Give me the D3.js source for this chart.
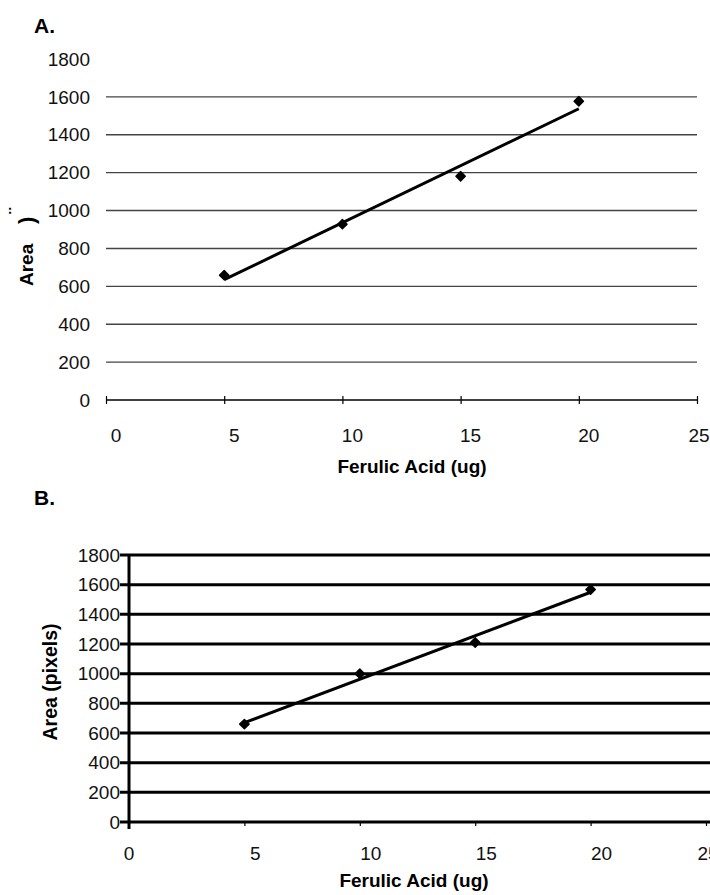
<!DOCTYPE html>
<html>
<head>
<meta charset="utf-8">
<script src="https://cdn.jsdelivr.net/npm/d3@7"></script>
<style>
  body { margin: 0; background: #fff; }
  svg { display: block; font-family: "Liberation Sans", Arial, sans-serif; }
</style>
</head>
<body>
<svg id="chart" width="710" height="895"></svg>
<script>
// ferulic acid amount (ug) vs measured area
let xTicks = [0, 5, 10, 15, 20, 25];
let yTicks = [0, 200, 400, 600, 800, 1000, 1200, 1400, 1600, 1800];
let amountA = [5, 10, 15, 20];
let areaA = [659, 928, 1181, 1577];
let amountB = [5, 10, 15, 20];
let areaB = [660, 1000, 1210, 1567];

let svg = d3.select("#chart");

// least squares fit for the trend line
function fit(xs, ys) {
  let mx = d3.mean(xs), my = d3.mean(ys);
  let num = d3.sum(xs, (x, i) => (x - mx) * (ys[i] - my));
  let den = d3.sum(xs, x => (x - mx) * (x - mx));
  let slope = num / den;
  return { slope: slope, icpt: my - slope * mx };
}

function trend(g, xScale, yScale, xs, ys) {
  let f = fit(xs, ys);
  let ends = [d3.min(xs), d3.max(xs)];
  g.append("path")
    .attr("d", d3.line()
      .x(d => xScale(d))
      .y(d => yScale(f.icpt + f.slope * d))(ends))
    .style("fill", "none")
    .style("stroke", "#000")
    .style("stroke-width", 3);
}

function markers(g, xScale, yScale, xs, ys) {
  g.selectAll(".pt")
    .data(xs)
    .enter()
    .append("path")
    .attr("class", "pt")
    .attr("transform", (d, i) => "translate(" + xScale(d) + "," + yScale(ys[i]) + ")")
    .attr("d", d3.symbol().type(d3.symbolDiamond2).size(55))
    .style("fill", "#000")
    .style("stroke", "#000")
    .style("stroke-width", 1.5)
    .style("stroke-linejoin", "round");
}

// ---------- chart A ----------
let xA = d3.scaleLinear().domain([0, 25]).range([106, 697]);
let yA = d3.scaleLinear().domain([0, 1800]).range([400, 59]);
let gA = svg.append("g");

gA.append("text")
  .attr("x", 34).attr("y", 33)
  .style("font-size", "21px").style("font-weight", "bold")
  .text("A.");

// horizontal grid
gA.append("g")
  .selectAll("line")
  .data(yTicks.filter(d => d > 0 && d < 1800))
  .enter()
  .append("line")
  .attr("x1", xA(0)).attr("x2", xA(25))
  .attr("y1", d => yA(d)).attr("y2", d => yA(d))
  .style("stroke", "#444")
  .style("stroke-width", 1.4);

// y tick labels
gA.append("g")
  .selectAll("text")
  .data(yTicks)
  .enter()
  .append("text")
  .attr("x", 90)
  .attr("y", d => yA(d))
  .attr("dy", "0.35em")
  .attr("text-anchor", "end")
  .style("font-size", "19px")
  .style("fill", "#111")
  .text(d => d);

// x axis
let axA = gA.append("g")
  .attr("transform", "translate(0," + yA(0) + ")")
  .call(d3.axisBottom(xA).tickValues(xTicks).tickSize(4).tickFormat(""));
axA.select(".domain").attr("d", "M" + xA(0) + ",0H" + xA(25)).style("stroke-width", 1.6);
axA.selectAll(".tick line").attr("y1", -4).style("stroke-width", 1.2);

gA.append("g")
  .selectAll("text")
  .data(xTicks)
  .enter()
  .append("text")
  .attr("x", d => Math.min(xA(d) + 10, 699))
  .attr("y", 435)
  .attr("dy", "0.35em")
  .attr("text-anchor", "middle")
  .style("font-size", "19px")
  .style("fill", "#111")
  .text(d => d);

gA.append("text")
  .attr("x", 412).attr("y", 473)
  .attr("text-anchor", "middle")
  .style("font-size", "19px").style("font-weight", "bold")
  .text("Ferulic Acid (ug)");

// broken y title of chart A
let yTitleA = gA.append("g").style("font-size", "19px").style("font-weight", "bold");
yTitleA.append("text")
  .attr("transform", "translate(33,286) rotate(-90)")
  .text("Area");
yTitleA.append("text")
  .attr("transform", "translate(34,224) rotate(-90)")
  .style("font-size", "22px")
  .text(")");
yTitleA.append("text")
  .attr("transform", "translate(22,214) rotate(-90)")
  .text("\u00a8");

trend(gA, xA, yA, amountA, areaA);
markers(gA, xA, yA, amountA, areaA);

// ---------- chart B ----------
let xB = d3.scaleLinear().domain([0, 25]).range([129, 706]);
let yB = d3.scaleLinear().domain([0, 1800]).range([822, 555]);
let gB = svg.append("g");

gB.append("text")
  .attr("x", 34).attr("y", 505)
  .style("font-size", "21px").style("font-weight", "bold")
  .text("B.");

gB.append("g")
  .selectAll("line")
  .data(yTicks.filter(d => d > 0))
  .enter()
  .append("line")
  .attr("x1", 120).attr("x2", 710)
  .attr("y1", d => yB(d)).attr("y2", d => yB(d))
  .style("stroke", "#000")
  .style("stroke-width", 3);

gB.append("g")
  .selectAll("text")
  .data(yTicks)
  .enter()
  .append("text")
  .attr("x", 120)
  .attr("y", d => yB(d))
  .attr("dy", "0.35em")
  .attr("text-anchor", "end")
  .style("font-size", "19px")
  .style("fill", "#111")
  .text(d => d);

// x axis
let axB = gB.append("g")
  .attr("transform", "translate(0," + yB(0) + ")")
  .call(d3.axisBottom(xB).tickValues(xTicks.filter(d => d > 0)).tickSize(4).tickFormat(""));
axB.select(".domain").attr("d", "M120,0H710").style("stroke-width", 3);
axB.selectAll(".tick line").style("stroke-width", 1.2);

// y axis
gB.append("line")
  .attr("x1", xB(0)).attr("x2", xB(0))
  .attr("y1", yB(1800) - 1).attr("y2", yB(0) + 7)
  .style("stroke", "#000")
  .style("stroke-width", 3);

gB.append("g")
  .selectAll("text")
  .data(xTicks)
  .enter()
  .append("text")
  .attr("x", d => d > 0 ? Math.min(xB(d) + 11, 708) : xB(d))
  .attr("y", 853)
  .attr("dy", "0.35em")
  .attr("text-anchor", "middle")
  .style("font-size", "19px")
  .style("fill", "#111")
  .text(d => d);

gB.append("text")
  .attr("x", 414).attr("y", 887)
  .attr("text-anchor", "middle")
  .style("font-size", "19px").style("font-weight", "bold")
  .text("Ferulic Acid (ug)");

gB.append("text")
  .attr("transform", "translate(57,682) rotate(-90)")
  .attr("text-anchor", "middle")
  .style("font-size", "19.5px").style("font-weight", "bold")
  .text("Area (pixels)");

trend(gB, xB, yB, amountB, areaB);
markers(gB, xB, yB, amountB, areaB);
</script>
</body>
</html>
